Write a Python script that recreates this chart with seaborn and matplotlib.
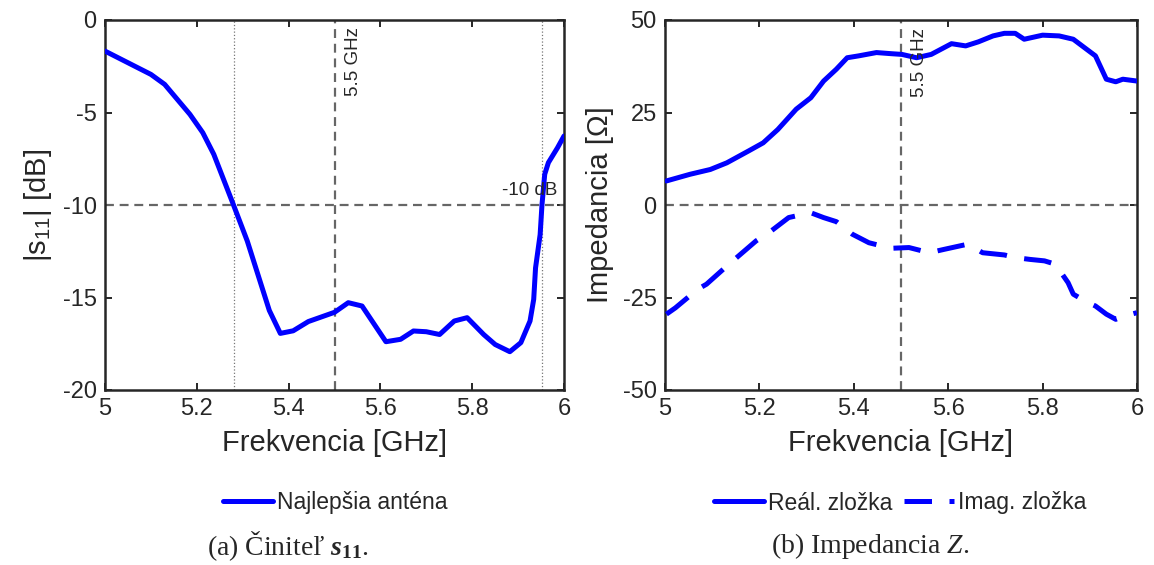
import numpy as np
import pandas as pd
import seaborn as sns
import matplotlib.pyplot as plt

# ==============================
# DATA
# ==============================
s11_freq = [5.0, 5.10, 5.13, 5.185, 5.213, 5.237, 5.28, 5.31, 5.358, 5.382, 5.41,
            5.443, 5.5, 5.53, 5.56, 5.612, 5.644, 5.672, 5.70, 5.729, 5.761, 5.789,
            5.825, 5.85, 5.882, 5.906, 5.926, 5.934, 5.938, 5.948, 5.952, 5.958,
            5.966, 5.986, 6.0]
s11_db = [-1.68, -2.94, -3.48, -5.1, -6.09, -7.26, -10.0, -11.95, -15.7, -16.94, -16.8,
          -16.3, -15.8, -15.28, -15.46, -17.39, -17.26, -16.81, -16.85, -17.0, -16.27, -16.09,
          -17.0, -17.54, -17.93, -17.44, -16.27, -15.1, -13.4, -11.6, -10.0, -8.34,
          -7.71, -6.9, -6.27]

re_freq = [5.003, 5.053, 5.096, 5.131, 5.177, 5.208, 5.239, 5.278, 5.309, 5.336, 5.363,
           5.386, 5.41, 5.448, 5.479, 5.502, 5.533, 5.564, 5.607, 5.637, 5.664, 5.695,
           5.719, 5.742, 5.761, 5.80, 5.835, 5.865, 5.889, 5.912, 5.935, 5.955, 5.97, 6.0]
re_z = [6.5, 8.3, 9.6, 11.4, 14.6, 16.8, 20.4, 25.9, 29.0, 33.5, 36.7,
        39.8, 40.3, 41.2, 40.9, 40.7, 39.8, 40.7, 43.6, 43.0, 44.1, 45.7,
        46.4, 46.4, 44.8, 45.9, 45.7, 44.8, 42.5, 40.3, 34.0, 33.3, 34.0, 33.5]

im_freq = [5.003, 5.022, 5.069, 5.088, 5.131, 5.193, 5.22, 5.262, 5.293, 5.309, 5.336,
           5.363, 5.397, 5.432, 5.479, 5.517, 5.56, 5.591, 5.641, 5.673, 5.719, 5.742,
           5.773, 5.804, 5.827, 5.854, 5.865, 5.889, 5.912, 5.935, 5.955, 5.974, 6.0]
im_z = [-29.5, -27.8, -22.8, -21.4, -16.5, -9.7, -7.5, -3.4, -2.5, -2.1, -3.4,
        -4.5, -7.9, -10.2, -11.7, -11.5, -12.9, -12.0, -10.6, -12.9, -13.5, -14.2,
        -14.7, -15.1, -16.0, -21.0, -24.1, -25.9, -27.3, -29.5, -30.9, -30.0, -29.1]

band_edges = [5.28, 5.952]
center_freq = 5.5

s11_ticks = [0, -5, -10, -15, -20]
z_ticks = [50, 25, 0, -25, -50]
f_ticks = [5, 5.2, 5.4, 5.6, 5.8, 6]

# ==============================
# STYLE
# ==============================
sns.set_style("ticks")
plt.rcParams['font.family'] = ['Liberation Sans', 'DejaVu Sans']
plt.rcParams['axes.unicode_minus'] = False
plt.rcParams['mathtext.fontset'] = 'custom'
plt.rcParams['mathtext.rm'] = 'Liberation Sans'
plt.rcParams['mathtext.it'] = 'Liberation Serif:italic'
plt.rcParams['mathtext.bf'] = 'Liberation Serif:bold'
plt.rcParams['mathtext.bfit'] = 'Liberation Serif:italic:bold'

dark = '#262626'
ref_grey = '#666666'

fig = plt.figure(figsize=(11.54, 5.65), dpi=100)
ax1 = fig.add_axes([105 / 1154, 1 - 390 / 565, 459 / 1154, 370 / 565])
ax2 = fig.add_axes([665 / 1154, 1 - 390 / 565, 472 / 1154, 370 / 565])

s11_df = pd.DataFrame({'f': s11_freq, 'v': s11_db})
re_df = pd.DataFrame({'f': re_freq, 'v': re_z})
im_df = pd.DataFrame({'f': im_freq, 'v': im_z})

# ==============================
# (a) S11
# ==============================
sns.lineplot(data=s11_df, x='f', y='v', ax=ax1, color='blue', lw=3.6,
             label='Najlepšia anténa', zorder=3)
ax1.axhline(-10, color=ref_grey, lw=1.6, ls=(0, (4, 2.6)), zorder=2)
ax1.axvline(center_freq, color=ref_grey, lw=1.6, ls=(0, (4, 2.6)), zorder=2)
for e in band_edges:
    ax1.axvline(e, color='#777777', lw=0.9, ls=':', zorder=1)
ax1.text(5.522, -0.4, '5.5 GHz', rotation=90, ha='left', va='top',
         fontsize=13.5, color=dark)
ax1.text(5.985, -9.65, '-10 dB', ha='right', va='bottom', fontsize=13.5, color=dark)
ax1.set_ylim(-20, 0)
ax1.set_yticks(s11_ticks)
ax1.set_ylabel(r'|s$_{\mathrm{11}}$| [dB]', fontsize=21, color=dark, labelpad=6)

# ==============================
# (b) Impedance
# ==============================
sns.lineplot(data=re_df, x='f', y='v', ax=ax2, color='blue', lw=3.6,
             label='Reál. zložka', zorder=3)
sns.lineplot(data=im_df, x='f', y='v', ax=ax2, color='blue', lw=3.6,
             ls=(0, (5.5, 3.5)), label='Imag. zložka', zorder=3)
ax2.axhline(0, color=ref_grey, lw=1.6, ls=(0, (4, 2.6)), zorder=2)
ax2.axvline(center_freq, color=ref_grey, lw=1.6, ls=(0, (4, 2.6)), zorder=2)
ax2.text(5.522, 47.9, '5.5 GHz', rotation=90, ha='left', va='top',
         fontsize=13.5, color=dark)
ax2.set_ylim(-50, 50)
ax2.set_yticks(z_ticks)
ax2.set_ylabel('Impedancia [Ω]', fontsize=21, color=dark, labelpad=6)

for ax in (ax1, ax2):
    ax.set_xlim(5, 6)
    ax.set_xticks(f_ticks)
    ax.set_xticklabels(['5', '5.2', '5.4', '5.6', '5.8', '6'])
    ax.set_xlabel('Frekvencia [GHz]', fontsize=21, color=dark, labelpad=6)
    ax.tick_params(direction='in', length=5, width=1.4, top=True, right=True,
                   labelsize=17, colors=dark, pad=6)
    for sp in ax.spines.values():
        sp.set_visible(True)
        sp.set_linewidth(1.8)
        sp.set_color(dark)

# legends below each panel
ax1.legend(loc='center', bbox_to_anchor=(335 / 1154, 1 - 503 / 565),
           bbox_transform=fig.transFigure, frameon=False, fontsize=16.5,
           handlelength=2.2, handletextpad=0.15)
ax2.legend(loc='center', bbox_to_anchor=(900 / 1154, 1 - 503 / 565),
           bbox_transform=fig.transFigure, frameon=False, fontsize=16.5, ncol=2,
           handlelength=2.2, handletextpad=0.15, columnspacing=0.5)

# sub-captions
fig.text(288 / 1154, 1 - 546 / 565, "(a) Činiteľ $\\mathbfit{s}_{\\mathbf{11}}$.",
         ha='center', va='center', fontsize=20, family='Liberation Serif')
fig.text(870 / 1154, 1 - 546 / 565, '(b) Impedancia $\\mathit{Z}$.',
         ha='center', va='center', fontsize=20, family='Liberation Serif')

fig.savefig('out.png', dpi=100)
